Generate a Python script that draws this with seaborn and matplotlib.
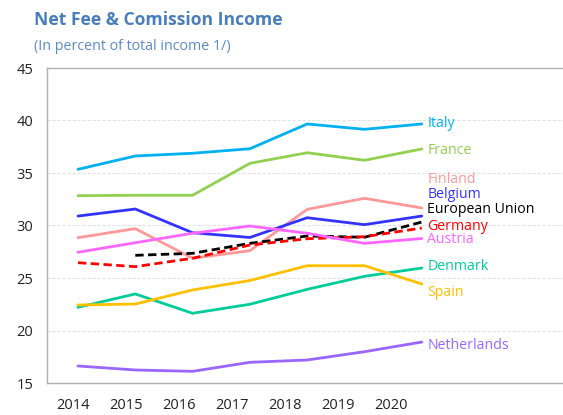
import numpy as np
import pandas as pd
import matplotlib
matplotlib.use("Agg")
import matplotlib.pyplot as plt
import seaborn as sns

years = ["2014", "2015", "2016", "2017", "2018", "2019", "2020"]
countries = ["Italy", "France", "Finland", "Belgium", "European Union",
             "Germany", "Austria", "Denmark", "Spain", "Netherlands"]

italy = [35.35, 36.62, 36.88, 37.31, 39.67, 39.16, 39.67]
france = [32.84, 32.88, 32.88, 35.92, 36.93, 36.21, 37.29]
finland = [28.84, 29.70, 26.88, 27.60, 31.54, 32.59, 31.67]
belgium = [30.90, 31.57, 29.31, 28.86, 30.74, 30.08, 30.90]
eu = [np.nan, 27.16, 27.35, 28.30, 29.00, 28.88, 30.33]
germany = [26.46, 26.08, 26.88, 28.14, 28.74, 28.93, 29.76]
austria = [27.45, 28.36, 29.26, 29.95, 29.26, 28.30, 28.76]
denmark = [22.21, 23.48, 21.64, 22.50, 23.92, 25.16, 25.95]
spain = [22.43, 22.52, 23.86, 24.76, 26.17, 26.17, 24.43]
netherlands = [16.62, 16.24, 16.11, 16.97, 17.19, 17.98, 18.90]

series = {
    "Italy": italy, "France": france, "Finland": finland, "Belgium": belgium,
    "European Union": eu, "Germany": germany, "Austria": austria,
    "Denmark": denmark, "Spain": spain, "Netherlands": netherlands,
}

colors = {
    "Italy": "#00B0F0", "France": "#92D050", "Finland": "#FF9999",
    "Belgium": "#3333FF", "European Union": "#000000", "Germany": "#FF0000",
    "Austria": "#FF66FF", "Denmark": "#00CC99", "Spain": "#FFC000",
    "Netherlands": "#9966FF",
}
# vertical positions of the end labels (layout)
label_y = {
    "Italy": 39.67, "France": 37.12, "Finland": 34.40, "Belgium": 32.97,
    "European Union": 31.57, "Germany": 29.95, "Austria": 28.62,
    "Denmark": 26.08, "Spain": 23.60, "Netherlands": 18.55,
}

rows = []
for c in countries:
    for i, v in enumerate(series[c]):
        rows.append({"x": i, "value": v, "country": c})
df = pd.DataFrame(rows).dropna()

sns.set_theme(style="white")
plt.rcParams["font.family"] = ["Open Sans", "DejaVu Sans"]

W, H = 563, 415
fig = plt.figure(figsize=(W / 100, H / 100), dpi=100)
left_px, right_px, top_px, bot_px = 47, 563, 68, 383
ax = fig.add_axes([left_px / W, (H - bot_px) / H,
                   (right_px - left_px) / W, (bot_px - top_px) / H])

dash_map = {c: "" for c in countries}
dash_map["European Union"] = (3, 1.6)
dash_map["Germany"] = (3, 1.6)

sns.lineplot(data=df, x="x", y="value", hue="country", style="country",
             hue_order=countries, style_order=countries,
             palette=colors, dashes=dash_map, linewidth=2.0,
             legend=False, ax=ax)

# pixel geometry: points at 78 + 57.3*i ; category labels at 73 + 53*i
pt0, pt_step = 78.0, 57.3
lab0, lab_step = 73.0, 53.0
ax.set_xlim((left_px - pt0) / pt_step, (right_px - pt0) / pt_step)
ax.set_ylim(15, 45)

def px_to_x(p):
    return (p - pt0) / pt_step

ax.set_xticks([px_to_x(lab0 + lab_step * i) for i in range(len(years))])
ax.set_xticklabels(years)
ax.set_xticks([px_to_x(left_px - 1 + lab_step * k) for k in range(1, 10)], minor=True)
ax.tick_params(axis="x", which="major", length=0, pad=11, labelsize=10.5, labelcolor="#222222")
ax.tick_params(axis="x", which="minor", length=5, direction="in", color="#B0B0B0", width=1)
ax.set_yticks([15, 20, 25, 30, 35, 40, 45])
ax.tick_params(axis="y", length=0, pad=10, labelsize=10.5, labelcolor="#222222")
ax.set_xlabel("")
ax.set_ylabel("")

for y in [20, 25, 30, 35, 40]:
    ax.axhline(y, color="#E2E2E2", lw=0.8, ls=(0, (3, 1.5)), zorder=0)

for s in ["left", "bottom", "top"]:
    ax.spines[s].set_color("#B0B0B0")
    ax.spines[s].set_linewidth(1.0)
ax.spines["right"].set_visible(False)

last = len(years) - 1
for c in countries:
    ax.annotate(c, xy=(last, label_y[c]), xytext=(4, 0), textcoords="offset points",
                color=colors[c], fontsize=10.2, va="center", ha="left")

fig.text(34 / W, 1 - 20 / H, "Net Fee & Comission Income", color="#4A7EBB",
         fontsize=12.6, fontweight="bold", va="center", ha="left")
fig.text(34 / W, 1 - 47 / H, "(In percent of total income 1/)", color="#5B8BC6",
         fontsize=10.3, va="center", ha="left")

fig.savefig("out.png", dpi=100)
